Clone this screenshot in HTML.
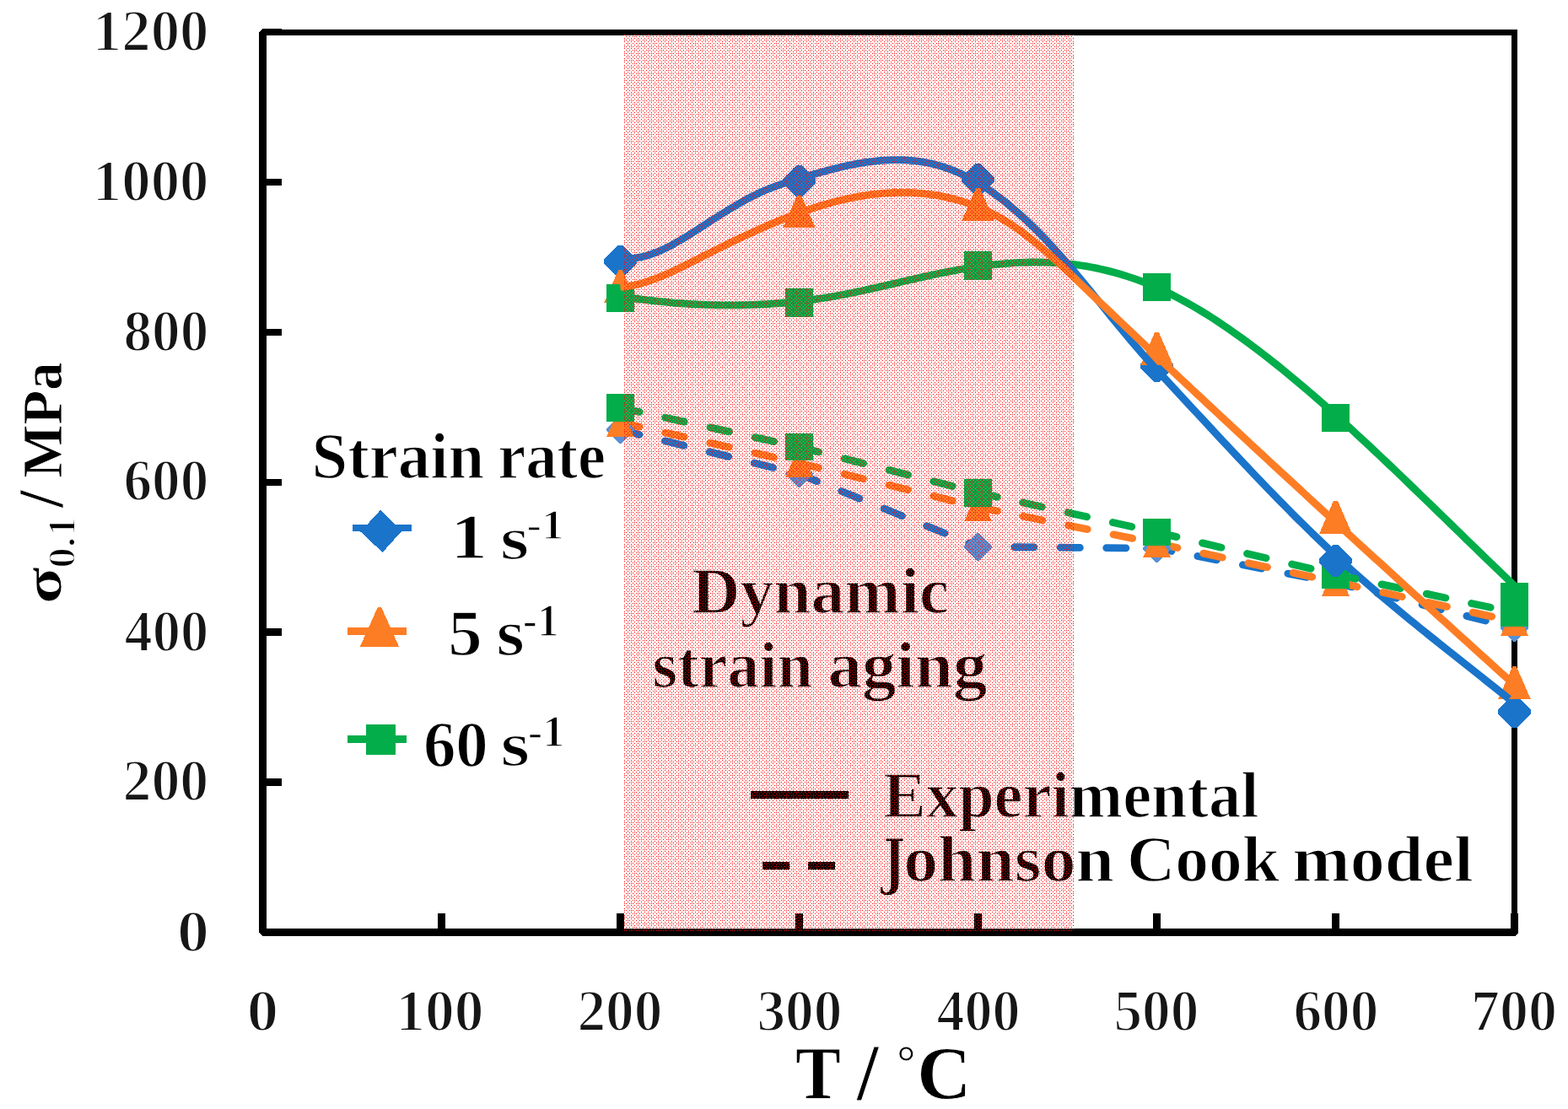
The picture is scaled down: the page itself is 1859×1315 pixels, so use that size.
<!DOCTYPE html><html><head><meta charset="utf-8"><title>Flow stress vs temperature</title><style>html,body{margin:0;padding:0;background:#fff;}svg{display:block;}.tk{font-family:"Liberation Serif",serif;font-weight:bold;font-size:64px;fill:#161616;}.lg{font-family:"Liberation Serif",serif;font-weight:bold;fill:#000;}</style></head><body>
<svg width="1859" height="1315" viewBox="0 0 1859 1315" shape-rendering="crispEdges">
<defs><pattern id="dots" patternUnits="userSpaceOnUse" x="0" y="0" width="16" height="16">
<rect x="0" y="1" width="1" height="1" fill="#f00"/>
<rect x="4" y="1" width="1" height="1" fill="#f00"/>
<rect x="8" y="1" width="1" height="1" fill="#f00"/>
<rect x="12" y="1" width="1" height="1" fill="#f00"/>
<rect x="0" y="5" width="1" height="1" fill="#f00"/>
<rect x="4" y="5" width="1" height="1" fill="#f00"/>
<rect x="8" y="5" width="1" height="1" fill="#f00"/>
<rect x="12" y="5" width="1" height="1" fill="#f00"/>
<rect x="0" y="9" width="1" height="1" fill="#f00"/>
<rect x="4" y="9" width="1" height="1" fill="#f00"/>
<rect x="8" y="9" width="1" height="1" fill="#f00"/>
<rect x="12" y="9" width="1" height="1" fill="#f00"/>
<rect x="0" y="13" width="1" height="1" fill="#f00"/>
<rect x="4" y="13" width="1" height="1" fill="#f00"/>
<rect x="8" y="13" width="1" height="1" fill="#f00"/>
<rect x="12" y="13" width="1" height="1" fill="#f00"/>
<rect x="2" y="3" width="1" height="1" fill="#f00"/>
<rect x="6" y="3" width="1" height="1" fill="#f00"/>
<rect x="8" y="3" width="1" height="1" fill="#f00"/>
<rect x="10" y="3" width="1" height="1" fill="#f00"/>
<rect x="14" y="3" width="1" height="1" fill="#f00"/>
<rect x="2" y="7" width="1" height="1" fill="#f00"/>
<rect x="4" y="7" width="1" height="1" fill="#f00"/>
<rect x="6" y="7" width="1" height="1" fill="#f00"/>
<rect x="10" y="7" width="1" height="1" fill="#f00"/>
<rect x="12" y="7" width="1" height="1" fill="#f00"/>
<rect x="14" y="7" width="1" height="1" fill="#f00"/>
<rect x="2" y="15" width="1" height="1" fill="#f00"/>
<rect x="4" y="15" width="1" height="1" fill="#f00"/>
<rect x="6" y="15" width="1" height="1" fill="#f00"/>
<rect x="10" y="15" width="1" height="1" fill="#f00"/>
<rect x="12" y="15" width="1" height="1" fill="#f00"/>
<rect x="14" y="15" width="1" height="1" fill="#f00"/>
<rect x="0" y="11" width="1" height="1" fill="#f00"/>
<rect x="2" y="11" width="1" height="1" fill="#f00"/>
<rect x="6" y="11" width="1" height="1" fill="#f00"/>
<rect x="10" y="11" width="1" height="1" fill="#f00"/>
<rect x="14" y="11" width="1" height="1" fill="#f00"/>
</pattern>
<mask id="jcmask" maskUnits="userSpaceOnUse" x="0" y="0" width="1859" height="1315"><rect width="1859" height="1315" fill="#fff"/>
<polygon points="734.5,493.4 736.5,493.4 751.9,508.8 751.9,510.8 736.5,526.2 734.5,526.2 719.1,510.8 719.1,508.8" fill="#000"/>
<polygon points="946.5,545.62 948.5,545.62 963.9,561.02 963.9,563.02 948.5,578.42 946.5,578.42 931.1,563.02 931.1,561.02" fill="#000"/>
<polygon points="1158.5,631.99 1160.5,631.99 1175.9,647.39 1175.9,649.39 1160.5,664.79 1158.5,664.79 1143.1,649.39 1143.1,647.39" fill="#000"/>
<polygon points="1370.5,633.76 1372.5,633.76 1387.9,649.16 1387.9,651.16 1372.5,666.56 1370.5,666.56 1355.1,651.16 1355.1,649.16" fill="#000"/>
<polygon points="1582.5,674.59 1584.5,674.59 1599.9,689.99 1599.9,691.99 1584.5,707.39 1582.5,707.39 1567.1,691.99 1567.1,689.99" fill="#000"/>
<polygon points="1794.5,728.32 1796.5,728.32 1811.9,743.72 1811.9,745.72 1796.5,761.12 1794.5,761.12 1779.1,745.72 1779.1,743.72" fill="#000"/>
<polygon points="734,484 737,484 752,518 719,518" fill="#000"/>
<polygon points="946,532.03 949,532.03 964,566.03 931,566.03" fill="#000"/>
<polygon points="1158,584.33 1161,584.33 1176,618.33 1143,618.33" fill="#000"/>
<polygon points="1370,627.21 1373,627.21 1388,661.21 1355,661.21" fill="#000"/>
<polygon points="1582,673.1 1585,673.1 1600,707.1 1567,707.1" fill="#000"/>
<polygon points="1794,720.07 1797,720.07 1812,754.07 1779,754.07" fill="#000"/>
<rect x="719.1" y="467.07" width="32.8" height="32.8" fill="#000"/>
<rect x="931.1" y="513.68" width="32.8" height="32.8" fill="#000"/>
<rect x="1143.1" y="567.85" width="32.8" height="32.8" fill="#000"/>
<rect x="1355.1" y="614.64" width="32.8" height="32.8" fill="#000"/>
<rect x="1567.1" y="664.9" width="32.8" height="32.8" fill="#000"/>
<rect x="1779.1" y="709.91" width="32.8" height="32.8" fill="#000"/>
</mask></defs>
<rect width="1859" height="1315" fill="#fff"/>
<g fill="#000">
<rect x="311.5" y="35" width="1484" height="7"/>
<rect x="1792" y="35" width="7" height="1072"/>
<polygon points="311,34 316,34 316,1101 1800,1101 1800,1106 1796,1110 311,1110 307,1106 307,38"/>
<rect x="316" y="1101.25" width="18" height="8.5"/>
<rect x="316" y="923.35" width="18" height="8.5"/>
<rect x="316" y="745.45" width="18" height="8.5"/>
<rect x="316" y="567.55" width="18" height="8.5"/>
<rect x="316" y="389.65" width="18" height="8.5"/>
<rect x="316" y="211.75" width="18" height="8.5"/>
<rect x="316" y="33.85" width="18" height="8.5"/>
<rect x="519.25" y="1083" width="8.5" height="20"/>
<rect x="731.25" y="1083" width="8.5" height="20"/>
<rect x="943.25" y="1083" width="8.5" height="20"/>
<rect x="1155.25" y="1083" width="8.5" height="20"/>
<rect x="1367.25" y="1083" width="8.5" height="20"/>
<rect x="1579.25" y="1083" width="8.5" height="20"/>
<rect x="1791.25" y="1083" width="8.5" height="20"/>
</g>
<text x="209.99" y="1127.5" font-family='"Liberation Serif",serif' font-weight="bold" font-size="70.8" fill="#161616" textLength="37.93" lengthAdjust="spacingAndGlyphs" stroke="#fff" stroke-width="2">0</text>
<text x="145.45" y="949" font-family='"Liberation Serif",serif' font-weight="bold" font-size="70.8" fill="#161616" textLength="101.82" lengthAdjust="spacingAndGlyphs" stroke="#fff" stroke-width="2">200</text>
<text x="147.47" y="771.5" font-family='"Liberation Serif",serif' font-weight="bold" font-size="70.8" fill="#161616" textLength="99.74" lengthAdjust="spacingAndGlyphs" stroke="#fff" stroke-width="2">400</text>
<text x="146.47" y="593" font-family='"Liberation Serif",serif' font-weight="bold" font-size="70.8" fill="#161616" textLength="100.78" lengthAdjust="spacingAndGlyphs" stroke="#fff" stroke-width="2">600</text>
<text x="146.47" y="415.5" font-family='"Liberation Serif",serif' font-weight="bold" font-size="70.8" fill="#161616" textLength="100.78" lengthAdjust="spacingAndGlyphs" stroke="#fff" stroke-width="2">800</text>
<text x="109.87" y="238" font-family='"Liberation Serif",serif' font-weight="bold" font-size="70.8" fill="#161616" textLength="137.58" lengthAdjust="spacingAndGlyphs" stroke="#fff" stroke-width="2">1000</text>
<text x="109.87" y="59.5" font-family='"Liberation Serif",serif' font-weight="bold" font-size="70.8" fill="#161616" textLength="137.58" lengthAdjust="spacingAndGlyphs" stroke="#fff" stroke-width="2">1200</text>
<text x="292.66" y="1222.2" font-family='"Liberation Serif",serif' font-weight="bold" font-size="70.8" fill="#161616" textLength="37.4" lengthAdjust="spacingAndGlyphs" stroke="#fff" stroke-width="2">0</text>
<text x="469.3" y="1222.2" font-family='"Liberation Serif",serif' font-weight="bold" font-size="70.8" fill="#161616" textLength="104.23" lengthAdjust="spacingAndGlyphs" stroke="#fff" stroke-width="2">100</text>
<text x="684.48" y="1222.2" font-family='"Liberation Serif",serif' font-weight="bold" font-size="70.8" fill="#161616" textLength="100.96" lengthAdjust="spacingAndGlyphs" stroke="#fff" stroke-width="2">200</text>
<text x="897.45" y="1222.2" font-family='"Liberation Serif",serif' font-weight="bold" font-size="70.8" fill="#161616" textLength="101.03" lengthAdjust="spacingAndGlyphs" stroke="#fff" stroke-width="2">300</text>
<text x="1110.51" y="1222.2" font-family='"Liberation Serif",serif' font-weight="bold" font-size="70.8" fill="#161616" textLength="98.92" lengthAdjust="spacingAndGlyphs" stroke="#fff" stroke-width="2">400</text>
<text x="1320.48" y="1222.2" font-family='"Liberation Serif",serif' font-weight="bold" font-size="70.8" fill="#161616" textLength="100.96" lengthAdjust="spacingAndGlyphs" stroke="#fff" stroke-width="2">500</text>
<text x="1533.46" y="1222.2" font-family='"Liberation Serif",serif' font-weight="bold" font-size="70.8" fill="#161616" textLength="100.97" lengthAdjust="spacingAndGlyphs" stroke="#fff" stroke-width="2">600</text>
<text x="1743.94" y="1222.2" font-family='"Liberation Serif",serif' font-weight="bold" font-size="70.8" fill="#161616" textLength="102.04" lengthAdjust="spacingAndGlyphs" stroke="#fff" stroke-width="2">700</text>
<text x="369.6" y="566.7" font-family='"Liberation Serif",serif' font-weight="bold" font-size="78.5" fill="#000" textLength="204.62" lengthAdjust="spacingAndGlyphs" stroke="#fff" stroke-width="1.5">Strain</text>
<text x="590.16" y="566.7" font-family='"Liberation Serif",serif' font-weight="bold" font-size="78.5" fill="#000" textLength="127.96" lengthAdjust="spacingAndGlyphs" stroke="#fff" stroke-width="1.5">rate</text>
<text x="534.36" y="662.01" font-family='"Liberation Serif",serif' font-weight="bold" font-size="77.08" fill="#000" textLength="43.65" lengthAdjust="spacingAndGlyphs" stroke="#fff" stroke-width="1.5">1</text>
<text x="593.11" y="662.6" font-family='"Liberation Serif",serif' font-weight="bold" font-size="71.23" fill="#000" textLength="34.25" lengthAdjust="spacingAndGlyphs" stroke="#fff" stroke-width="1.5">s</text>
<text x="624.2" y="639.2" font-family='"Liberation Serif",serif' font-weight="bold" font-size="51.47" fill="#000" textLength="44.61" lengthAdjust="spacingAndGlyphs" stroke="#fff" stroke-width="1.5">-1</text>
<text x="531.15" y="777.23" font-family='"Liberation Serif",serif' font-weight="bold" font-size="77.89" fill="#000" textLength="40.42" lengthAdjust="spacingAndGlyphs" stroke="#fff" stroke-width="1.5">5</text>
<text x="588.55" y="777.24" font-family='"Liberation Serif",serif' font-weight="bold" font-size="77.31" fill="#000" textLength="33.42" lengthAdjust="spacingAndGlyphs" stroke="#fff" stroke-width="1.5">s</text>
<text x="619.8" y="753.93" font-family='"Liberation Serif",serif' font-weight="bold" font-size="54.52" fill="#000" textLength="42.8" lengthAdjust="spacingAndGlyphs" stroke="#fff" stroke-width="1.5">-1</text>
<text x="501.89" y="909.25" font-family='"Liberation Serif",serif' font-weight="bold" font-size="78.26" fill="#000" textLength="76.82" lengthAdjust="spacingAndGlyphs" stroke="#fff" stroke-width="1.5">60</text>
<text x="593.43" y="908.14" font-family='"Liberation Serif",serif' font-weight="bold" font-size="73.56" fill="#000" textLength="34.52" lengthAdjust="spacingAndGlyphs" stroke="#fff" stroke-width="1.5">s</text>
<text x="625.74" y="885.04" font-family='"Liberation Serif",serif' font-weight="bold" font-size="53.67" fill="#000" textLength="43.78" lengthAdjust="spacingAndGlyphs" stroke="#fff" stroke-width="1.5">-1</text>
<text x="819.97" y="727.3" font-family='"Liberation Serif",serif' font-weight="bold" font-size="78.5" fill="#000" textLength="305.18" lengthAdjust="spacingAndGlyphs" stroke="#fff" stroke-width="1.5">Dynamic</text>
<text x="773.6" y="815" font-family='"Liberation Serif",serif' font-weight="bold" font-size="78.5" fill="#000" textLength="190.09" lengthAdjust="spacingAndGlyphs" stroke="#fff" stroke-width="1.5">strain</text>
<text x="981.41" y="815" font-family='"Liberation Serif",serif' font-weight="bold" font-size="78.5" fill="#000" textLength="188.95" lengthAdjust="spacingAndGlyphs" stroke="#fff" stroke-width="1.5">aging</text>
<text x="1047.06" y="969" font-family='"Liberation Serif",serif' font-weight="bold" font-size="78.5" fill="#000" textLength="445.33" lengthAdjust="spacingAndGlyphs" stroke="#fff" stroke-width="1.5">Experimental</text>
<text x="1047.2" y="1046.7" font-family='"DejaVu Serif",serif' font-weight="bold" font-size="72.29" fill="#000" textLength="26.13" lengthAdjust="spacingAndGlyphs" stroke="#fff" stroke-width="1.5">J</text>
<text x="1071.23" y="1045.3" font-family='"Liberation Serif",serif' font-weight="bold" font-size="78.5" fill="#000" textLength="249.68" lengthAdjust="spacingAndGlyphs" stroke="#fff" stroke-width="1.5">ohnson</text>
<text x="1335.94" y="1045.3" font-family='"Liberation Serif",serif' font-weight="bold" font-size="78.5" fill="#000" textLength="181.12" lengthAdjust="spacingAndGlyphs" stroke="#fff" stroke-width="1.5">Cook</text>
<text x="1532.36" y="1045.3" font-family='"Liberation Serif",serif' font-weight="bold" font-size="78.5" fill="#000" textLength="214.38" lengthAdjust="spacingAndGlyphs" stroke="#fff" stroke-width="1.5">model</text>
<text x="943.03" y="1302.15" font-family='"Liberation Serif",serif' font-weight="bold" font-size="89.55" fill="#000" textLength="53.84" lengthAdjust="spacingAndGlyphs" stroke="#fff" stroke-width="0.8">T</text>
<text x="1015.93" y="1304.24" font-family='"Liberation Serif",serif' font-weight="bold" font-size="96.06" fill="#000" textLength="25.52" lengthAdjust="spacingAndGlyphs" stroke="#fff" stroke-width="0.8">/</text>
<text x="1063.37" y="1278.03" font-family='"Liberation Serif",serif' font-weight="bold" font-size="54.31" fill="#000" textLength="22.23" lengthAdjust="spacingAndGlyphs" stroke="#fff" stroke-width="0.8">°</text>
<text x="1087.29" y="1302" font-family='"Liberation Serif",serif' font-weight="bold" font-size="89.55" fill="#000" textLength="64.1" lengthAdjust="spacingAndGlyphs" stroke="#fff" stroke-width="0.8">C</text>
<text transform="translate(72.18,716.12) rotate(-90)" x="0" y="0" font-family='"Liberation Serif",serif' font-weight="bold" font-size="63.15" fill="#000" textLength="43.79" lengthAdjust="spacingAndGlyphs" stroke="#fff" stroke-width="0.8">σ</text>
<text transform="translate(88.54,673.75) rotate(-90)" x="0" y="0" font-family='"Liberation Serif",serif' font-weight="bold" font-size="47.01" fill="#000" textLength="61.76" lengthAdjust="spacingAndGlyphs" stroke="#fff" stroke-width="2">0.1</text>
<text transform="translate(74.37,602.1) rotate(-90)" x="0" y="0" font-family='"Liberation Serif",serif' font-weight="bold" font-size="76.28" fill="#000" textLength="20.51" lengthAdjust="spacingAndGlyphs" stroke="#fff" stroke-width="0.8">/</text>
<text transform="translate(72.5,566.45) rotate(-90)" x="0" y="0" font-family='"Liberation Serif",serif' font-weight="bold" font-size="68.28" fill="#000" textLength="136.9" lengthAdjust="spacingAndGlyphs" stroke="#fff" stroke-width="0.8">MPa</text>
<g fill="none" stroke-width="8.8" shape-rendering="auto">
<path d="M735.5,509.8 L947.5,562.02 L1159.5,648.39 L1371.5,650.16 L1583.5,690.99 L1795.5,744.72" stroke="#1a74ca" stroke-dasharray="23.1 31.4" stroke-linecap="round" stroke-linejoin="round"/>
</g>
<polygon points="734.5,493.4 736.5,493.4 751.9,508.8 751.9,510.8 736.5,526.2 734.5,526.2 719.1,510.8 719.1,508.8" fill="#5890d6"/>
<polygon points="946.5,545.62 948.5,545.62 963.9,561.02 963.9,563.02 948.5,578.42 946.5,578.42 931.1,563.02 931.1,561.02" fill="#5890d6"/>
<polygon points="1158.5,631.99 1160.5,631.99 1175.9,647.39 1175.9,649.39 1160.5,664.79 1158.5,664.79 1143.1,649.39 1143.1,647.39" fill="#5890d6"/>
<polygon points="1370.5,633.76 1372.5,633.76 1387.9,649.16 1387.9,651.16 1372.5,666.56 1370.5,666.56 1355.1,651.16 1355.1,649.16" fill="#5890d6"/>
<polygon points="1582.5,674.59 1584.5,674.59 1599.9,689.99 1599.9,691.99 1584.5,707.39 1582.5,707.39 1567.1,691.99 1567.1,689.99" fill="#5890d6"/>
<polygon points="1794.5,728.32 1796.5,728.32 1811.9,743.72 1811.9,745.72 1796.5,761.12 1794.5,761.12 1779.1,745.72 1779.1,743.72" fill="#5890d6"/>
<polygon points="734,484 737,484 752,518 719,518" fill="#fd7d25"/>
<polygon points="946,532.03 949,532.03 964,566.03 931,566.03" fill="#fd7d25"/>
<polygon points="1158,584.33 1161,584.33 1176,618.33 1143,618.33" fill="#fd7d25"/>
<polygon points="1370,627.21 1373,627.21 1388,661.21 1355,661.21" fill="#fd7d25"/>
<polygon points="1582,673.1 1585,673.1 1600,707.1 1567,707.1" fill="#fd7d25"/>
<polygon points="1794,720.07 1797,720.07 1812,754.07 1779,754.07" fill="#fd7d25"/>
<rect x="719.1" y="467.07" width="32.8" height="32.8" fill="#02ad4a"/>
<rect x="931.1" y="513.68" width="32.8" height="32.8" fill="#02ad4a"/>
<rect x="1143.1" y="567.85" width="32.8" height="32.8" fill="#02ad4a"/>
<rect x="1355.1" y="614.64" width="32.8" height="32.8" fill="#02ad4a"/>
<rect x="1567.1" y="664.9" width="32.8" height="32.8" fill="#02ad4a"/>
<rect x="1779.1" y="709.91" width="32.8" height="32.8" fill="#02ad4a"/>
<polygon points="732.5,291.02 738.5,291.02 755,307.52 755,312.52 738.5,329.02 732.5,329.02 716,312.52 716,307.52" fill="#1a74ca"/>
<polygon points="944.5,195.67 950.5,195.67 967,212.17 967,217.17 950.5,233.67 944.5,233.67 928,217.17 928,212.17" fill="#1a74ca"/>
<polygon points="1156.5,193.89 1162.5,193.89 1179,210.39 1179,215.39 1162.5,231.89 1156.5,231.89 1140,215.39 1140,210.39" fill="#1a74ca"/>
<polygon points="1368.5,415.46 1374.5,415.46 1391,431.96 1391,436.96 1374.5,453.46 1368.5,453.46 1352,436.96 1352,431.96" fill="#1a74ca"/>
<polygon points="1580.5,646.38 1586.5,646.38 1603,662.88 1603,667.88 1586.5,684.38 1580.5,684.38 1564,667.88 1564,662.88" fill="#1a74ca"/>
<polygon points="1792.5,825.16 1798.5,825.16 1815,841.66 1815,846.66 1798.5,863.16 1792.5,863.16 1776,846.66 1776,841.66" fill="#1a74ca"/>
<polygon points="733,320.39 738,320.39 754.75,358.89 716.25,358.89" fill="#fd7d25"/>
<polygon points="945,231.71 950,231.71 966.75,270.21 928.25,270.21" fill="#fd7d25"/>
<polygon points="1157,223.17 1162,223.17 1178.75,261.67 1140.25,261.67" fill="#fd7d25"/>
<polygon points="1369,394.22 1374,394.22 1390.75,432.72 1352.25,432.72" fill="#fd7d25"/>
<polygon points="1581,594 1586,594 1602.75,632.5 1564.25,632.5" fill="#fd7d25"/>
<polygon points="1793,790.49 1798,790.49 1814.75,828.99 1776.25,828.99" fill="#fd7d25"/>
<rect x="718.75" y="336.77" width="33.5" height="33.5" fill="#02ad4a"/>
<rect x="930.75" y="342.46" width="33.5" height="33.5" fill="#02ad4a"/>
<rect x="1142.75" y="298.16" width="33.5" height="33.5" fill="#02ad4a"/>
<rect x="1354.75" y="323.78" width="33.5" height="33.5" fill="#02ad4a"/>
<rect x="1566.75" y="478.73" width="33.5" height="33.5" fill="#02ad4a"/>
<rect x="1778.75" y="690.61" width="33.5" height="33.5" fill="#02ad4a"/>
<g fill="none" stroke-width="8.8" stroke-linejoin="round" shape-rendering="auto">
<path d="M735.5,351.27 L741.5,352.21 L747.5,353.11 L753.5,353.97 L759.5,354.78 L765.5,355.55 L771.5,356.28 L777.5,356.97 L783.5,357.61 L789.5,358.21 L795.5,358.77 L801.5,359.28 L807.5,359.75 L813.5,360.17 L819.5,360.54 L825.5,360.88 L831.5,361.16 L837.5,361.4 L843.5,361.59 L849.5,361.74 L855.5,361.84 L861.5,361.89 L867.5,361.89 L873.5,361.85 L879.5,361.76 L885.5,361.62 L891.5,361.43 L897.5,361.19 L903.5,360.9 L909.5,360.56 L915.5,360.18 L921.5,359.74 L927.5,359.25 L933.5,358.71 L939.5,358.12 L945.5,357.48 L951.5,356.79 L957.5,356.05 L963.5,355.25 L969.5,354.4 L975.5,353.5 L981.5,352.54 L987.5,351.54 L993.5,350.47 L999.5,349.36 L1005.5,348.2 L1011.5,346.99 L1017.5,345.75 L1023.5,344.48 L1029.5,343.17 L1035.5,341.84 L1041.5,340.49 L1047.5,339.12 L1053.5,337.74 L1059.5,336.36 L1065.5,334.97 L1071.5,333.58 L1077.5,332.21 L1083.5,330.84 L1089.5,329.48 L1095.5,328.15 L1101.5,326.84 L1107.5,325.56 L1113.5,324.31 L1119.5,323.1 L1125.5,321.93 L1131.5,320.81 L1137.5,319.73 L1143.5,318.69 L1149.5,317.71 L1155.5,316.79 L1161.5,315.92 L1167.5,315.11 L1173.5,314.36 L1179.5,313.68 L1185.5,313.07 L1191.5,312.53 L1197.5,312.06 L1203.5,311.67 L1209.5,311.35 L1215.5,311.12 L1221.5,310.98 L1227.5,310.92 L1233.5,310.95 L1239.5,311.07 L1245.5,311.29 L1251.5,311.61 L1257.5,312.03 L1263.5,312.56 L1269.5,313.19 L1275.5,313.92 L1281.5,314.76 L1287.5,315.71 L1293.5,316.77 L1299.5,317.94 L1305.5,319.22 L1311.5,320.61 L1317.5,322.12 L1323.5,323.75 L1329.5,325.49 L1335.5,327.34 L1341.5,329.32 L1347.5,331.42 L1353.5,333.63 L1359.5,335.97 L1365.5,338.44 L1371.5,341.03 L1377.5,343.74 L1383.5,346.58 L1389.5,349.54 L1395.5,352.61 L1401.5,355.8 L1407.5,359.1 L1413.5,362.5 L1419.5,366.02 L1425.5,369.63 L1431.5,373.34 L1437.5,377.15 L1443.5,381.06 L1449.5,385.05 L1455.5,389.13 L1461.5,393.29 L1467.5,397.54 L1473.5,401.86 L1479.5,406.25 L1485.5,410.72 L1491.5,415.26 L1497.5,419.87 L1503.5,424.54 L1509.5,429.27 L1515.5,434.06 L1521.5,438.91 L1527.5,443.83 L1533.5,448.79 L1539.5,453.81 L1545.5,458.88 L1551.5,464.01 L1557.5,469.18 L1563.5,474.4 L1569.5,479.67 L1575.5,484.98 L1581.5,490.33 L1587.5,495.72 L1593.5,501.15 L1599.5,506.62 L1605.5,512.12 L1611.5,517.65 L1617.5,523.22 L1623.5,528.82 L1629.5,534.44 L1635.5,540.09 L1641.5,545.77 L1647.5,551.47 L1653.5,557.19 L1659.5,562.93 L1665.5,568.69 L1671.5,574.46 L1677.5,580.25 L1683.5,586.05 L1689.5,591.86 L1695.5,597.68 L1701.5,603.51 L1707.5,609.34 L1713.5,615.18 L1719.5,621.02 L1725.5,626.86 L1731.5,632.7 L1737.5,638.54 L1743.5,644.37 L1749.5,650.19 L1755.5,656.01 L1761.5,661.81 L1767.5,667.61 L1773.5,673.39 L1779.5,679.16 L1785.5,684.9 L1791.5,690.64 L1795.5,694.44" stroke="#02ad4a"/>
<path d="M735.5,306.05 L741.5,306.55 L747.5,306.51 L753.5,305.96 L759.5,304.95 L765.5,303.51 L771.5,301.67 L777.5,299.47 L783.5,296.94 L789.5,294.12 L795.5,291.05 L801.5,287.76 L807.5,284.28 L813.5,280.66 L819.5,276.92 L825.5,273.1 L831.5,269.24 L837.5,265.36 L843.5,261.5 L849.5,257.66 L855.5,253.86 L861.5,250.12 L867.5,246.47 L873.5,242.92 L879.5,239.48 L885.5,236.19 L891.5,233.05 L897.5,230.08 L903.5,227.31 L909.5,224.75 L915.5,222.37 L921.5,220.16 L927.5,218.08 L933.5,216.11 L939.5,214.22 L945.5,212.38 L951.5,210.58 L957.5,208.79 L963.5,207.04 L969.5,205.32 L975.5,203.65 L981.5,202.03 L987.5,200.48 L993.5,199 L999.5,197.59 L1005.5,196.27 L1011.5,195.05 L1017.5,193.93 L1023.5,192.92 L1029.5,192.02 L1035.5,191.26 L1041.5,190.62 L1047.5,190.13 L1053.5,189.79 L1059.5,189.61 L1065.5,189.59 L1071.5,189.75 L1077.5,190.09 L1083.5,190.62 L1089.5,191.35 L1095.5,192.28 L1101.5,193.43 L1107.5,194.8 L1113.5,196.4 L1119.5,198.23 L1125.5,200.32 L1131.5,202.65 L1137.5,205.25 L1143.5,208.09 L1149.5,211.18 L1155.5,214.52 L1161.5,218.09 L1167.5,221.89 L1173.5,225.92 L1179.5,230.17 L1185.5,234.64 L1191.5,239.32 L1197.5,244.21 L1203.5,249.3 L1209.5,254.59 L1215.5,260.07 L1221.5,265.73 L1227.5,271.58 L1233.5,277.6 L1239.5,283.8 L1245.5,290.16 L1251.5,296.69 L1257.5,303.37 L1263.5,310.21 L1269.5,317.18 L1275.5,324.27 L1281.5,331.46 L1287.5,338.73 L1293.5,346.07 L1299.5,353.44 L1305.5,360.84 L1311.5,368.24 L1317.5,375.63 L1323.5,382.98 L1329.5,390.28 L1335.5,397.51 L1341.5,404.64 L1347.5,411.66 L1353.5,418.55 L1359.5,425.32 L1365.5,431.98 L1371.5,438.55 L1377.5,445.07 L1383.5,451.55 L1389.5,458.01 L1395.5,464.48 L1401.5,470.95 L1407.5,477.43 L1413.5,483.9 L1419.5,490.38 L1425.5,496.85 L1431.5,503.32 L1437.5,509.78 L1443.5,516.23 L1449.5,522.66 L1455.5,529.09 L1461.5,535.49 L1467.5,541.88 L1473.5,548.25 L1479.5,554.59 L1485.5,560.91 L1491.5,567.21 L1497.5,573.47 L1503.5,579.7 L1509.5,585.9 L1515.5,592.06 L1521.5,598.18 L1527.5,604.26 L1533.5,610.3 L1539.5,616.3 L1545.5,622.24 L1551.5,628.14 L1557.5,633.99 L1563.5,639.78 L1569.5,645.52 L1575.5,651.2 L1581.5,656.82 L1587.5,662.37 L1593.5,667.87 L1599.5,673.3 L1605.5,678.68 L1611.5,684.01 L1617.5,689.28 L1623.5,694.5 L1629.5,699.68 L1635.5,704.81 L1641.5,709.9 L1647.5,714.95 L1653.5,719.97 L1659.5,724.95 L1665.5,729.89 L1671.5,734.81 L1677.5,739.7 L1683.5,744.57 L1689.5,749.41 L1695.5,754.23 L1701.5,759.04 L1707.5,763.83 L1713.5,768.61 L1719.5,773.38 L1725.5,778.14 L1731.5,782.9 L1737.5,787.65 L1743.5,792.41 L1749.5,797.16 L1755.5,801.92 L1761.5,806.69 L1767.5,811.47 L1773.5,816.26 L1779.5,821.06 L1785.5,825.88 L1789,828.71" stroke="#1a74ca"/>
</g>
<g fill="none" stroke-width="8.8" shape-rendering="auto">
<g mask="url(#jcmask)">
<path d="M735.5,483.47 L947.5,530.08 L1159.5,584.25 L1371.5,631.04 L1583.5,681.3 L1795.5,726.31" stroke="#02ad4a" stroke-dasharray="23.1 31.4" stroke-linecap="round" stroke-linejoin="round"/>
<path d="M735.5,501 L947.5,549.03 L1159.5,601.33 L1371.5,644.21 L1583.5,690.1 L1795.5,737.07" stroke="#fd7d25" stroke-dasharray="23.1 31.4" stroke-linecap="round" stroke-linejoin="round"/>
</g>
<path d="M735.5,340.49 L741.5,339.88 L747.5,338.94 L753.5,337.71 L759.5,336.21 L765.5,334.45 L771.5,332.47 L777.5,330.28 L783.5,327.9 L789.5,325.37 L795.5,322.69 L801.5,319.9 L807.5,317.01 L813.5,314.05 L819.5,311.04 L825.5,308 L831.5,304.95 L837.5,301.92 L843.5,298.9 L849.5,295.9 L855.5,292.92 L861.5,289.97 L867.5,287.05 L873.5,284.16 L879.5,281.3 L885.5,278.49 L891.5,275.71 L897.5,272.99 L903.5,270.31 L909.5,267.68 L915.5,265.11 L921.5,262.6 L927.5,260.16 L933.5,257.77 L939.5,255.46 L945.5,253.22 L951.5,251.06 L957.5,248.98 L963.5,246.98 L969.5,245.06 L975.5,243.23 L981.5,241.49 L987.5,239.85 L993.5,238.3 L999.5,236.85 L1005.5,235.51 L1011.5,234.27 L1017.5,233.14 L1023.5,232.12 L1029.5,231.21 L1035.5,230.43 L1041.5,229.76 L1047.5,229.21 L1053.5,228.79 L1059.5,228.5 L1065.5,228.35 L1071.5,228.32 L1077.5,228.44 L1083.5,228.69 L1089.5,229.09 L1095.5,229.63 L1101.5,230.33 L1107.5,231.17 L1113.5,232.17 L1119.5,233.33 L1125.5,234.65 L1131.5,236.14 L1137.5,237.8 L1143.5,239.64 L1149.5,241.67 L1155.5,243.89 L1161.5,246.31 L1167.5,248.94 L1173.5,251.78 L1179.5,254.84 L1185.5,258.13 L1191.5,261.65 L1197.5,265.4 L1203.5,269.41 L1209.5,273.65 L1215.5,278.11 L1221.5,282.77 L1227.5,287.63 L1233.5,292.65 L1239.5,297.82 L1245.5,303.12 L1251.5,308.55 L1257.5,314.07 L1263.5,319.68 L1269.5,325.35 L1275.5,331.07 L1281.5,336.82 L1287.5,342.58 L1293.5,348.34 L1299.5,354.08 L1305.5,359.82 L1311.5,365.55 L1317.5,371.27 L1323.5,376.98 L1329.5,382.68 L1335.5,388.37 L1341.5,394.06 L1347.5,399.74 L1353.5,405.41 L1359.5,411.08 L1365.5,416.74 L1371.5,422.4 L1377.5,428.05 L1383.5,433.7 L1389.5,439.34 L1395.5,444.98 L1401.5,450.61 L1407.5,456.23 L1413.5,461.86 L1419.5,467.47 L1425.5,473.08 L1431.5,478.69 L1437.5,484.29 L1443.5,489.89 L1449.5,495.48 L1455.5,501.07 L1461.5,506.65 L1467.5,512.23 L1473.5,517.8 L1479.5,523.37 L1485.5,528.94 L1491.5,534.5 L1497.5,540.06 L1503.5,545.61 L1509.5,551.16 L1515.5,556.71 L1521.5,562.25 L1527.5,567.78 L1533.5,573.32 L1539.5,578.85 L1545.5,584.37 L1551.5,589.89 L1557.5,595.41 L1563.5,600.93 L1569.5,606.44 L1575.5,611.95 L1581.5,617.45 L1587.5,622.95 L1593.5,628.45 L1599.5,633.95 L1605.5,639.44 L1611.5,644.93 L1617.5,650.42 L1623.5,655.9 L1629.5,661.38 L1635.5,666.86 L1641.5,672.33 L1647.5,677.8 L1653.5,683.27 L1659.5,688.74 L1665.5,694.2 L1671.5,699.67 L1677.5,705.13 L1683.5,710.58 L1689.5,716.04 L1695.5,721.49 L1701.5,726.94 L1707.5,732.39 L1713.5,737.84 L1719.5,743.28 L1725.5,748.73 L1731.5,754.17 L1737.5,759.61 L1743.5,765.04 L1749.5,770.48 L1755.5,775.91 L1761.5,781.35 L1767.5,786.78 L1773.5,792.21 L1779.5,797.64 L1785.5,803.06 L1791.5,808.49 L1795.5,812.11" stroke="#fd7d25" stroke-width="8.8" stroke-linejoin="round"/>
</g>
<rect x="418" y="622" width="70" height="8" fill="#1a74ca"/>
<polygon points="451,604.8 476.5,629.5 453.5,655 427.5,630.5" fill="#1a74ca"/>
<rect x="412" y="744" width="70" height="8.7" fill="#fd7d25"/>
<polygon points="448,719.7 452,719.7 473.1,766.9 426.8,766.9" fill="#fd7d25"/>
<rect x="412" y="872" width="70" height="8.7" fill="#02ad4a"/>
<rect x="434" y="859" width="35" height="36" fill="#02ad4a"/>
<rect x="890" y="938" width="116" height="9" fill="#000"/>
<rect x="904" y="1022" width="32" height="9" fill="#000"/>
<rect x="958" y="1022" width="32" height="9" fill="#000"/>
<rect x="740" y="40" width="534" height="1064" fill="url(#dots)"/>
</svg></body></html>
